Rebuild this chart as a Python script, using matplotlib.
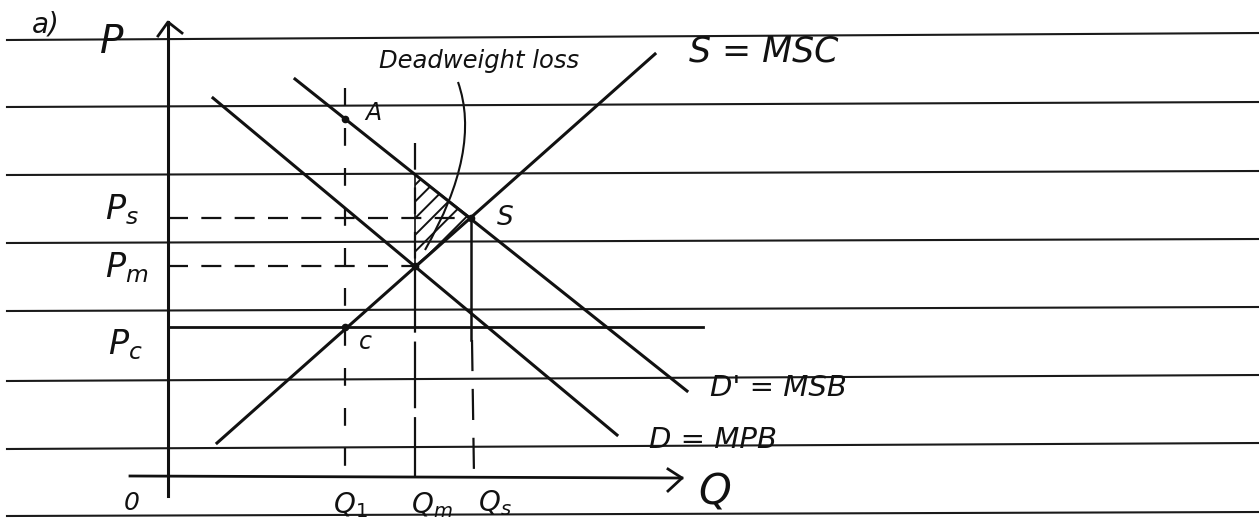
import numpy as np
import matplotlib.pyplot as plt
from matplotlib.patches import Polygon, PathPatch
from matplotlib.path import Path

# notebook ruling (pixel coords, left edge / right edge)
rule_y_left = [40, 107, 175, 243, 311, 381, 449, 516]
rule_y_right = [33, 102, 171, 239, 307, 375, 443, 512]

# curves: [x0, x1], [y0, y1]
mpb_x, mpb_y = [213, 617], [98, 435]      # D = MPB
msb_x, msb_y = [295, 687], [79, 391]      # D' = MSB
msc_x, msc_y = [217, 655], [443, 54]      # S = MSC

# key points
q1, qm, qs = 345, 415, 471
p_s, p_m, p_c = 218, 266, 327
axis_x, axis_y = 168, 476


def line_y(xs, ys, x):
    return ys[0] + (ys[1] - ys[0]) * (x - xs[0]) / (xs[1] - xs[0])


plt.rcParams['hatch.linewidth'] = 1.4

fig = plt.figure(figsize=(12.59, 5.18), dpi=100)
ax = fig.add_axes([0, 0, 1, 1])
ax.set_xlim(0, 1259)
ax.set_ylim(518, 0)
ax.axis('off')

ink = '#111111'
for yl, yr in zip(rule_y_left, rule_y_right):
    ax.plot([7, 1259], [yl, yr], color='#1a1a1a', lw=1.5)

# axes
ax.plot([axis_x, axis_x], [22, 496], color=ink, lw=2.2)
ax.plot([158, axis_x, 182], [36, 22, 33], color=ink, lw=2)
ax.plot([130, 682], [axis_y, axis_y + 2], color=ink, lw=2)
ax.plot([668, 682, 668], [469, 478, 491], color=ink, lw=2)

# curves
ax.plot(mpb_x, mpb_y, color=ink, lw=2.2)
ax.plot(msb_x, msb_y, color=ink, lw=2.2)
ax.plot(msc_x, msc_y, color=ink, lw=2.2)

# guide lines
ax.plot([axis_x, qs], [p_s, p_s], color=ink, lw=1.6, ls=(0, (9, 6)))
ax.plot([axis_x, qm], [p_m, p_m], color=ink, lw=1.6, ls=(0, (9, 6)))
ax.plot([axis_x, 703], [p_c, p_c], color=ink, lw=2)
ax.plot([q1, q1], [88, axis_y], color=ink, lw=1.6, ls=(0, (8, 10)))
ax.plot([qm, qm], [143, p_m], color=ink, lw=1.6, ls=(0, (12, 8)))
ax.plot([qm, qm], [p_m, axis_y], color=ink, lw=1.6, ls=(0, (30, 4)))
ax.plot([qs, qs], [p_s, 340], color=ink, lw=1.8)
ax.plot([qs + 1, qs + 3], [340, axis_y], color=ink, lw=1.6, ls=(0, (14, 8)))

# deadweight loss triangle
tri = [(qm, line_y(msb_x, msb_y, qm)), (qm, p_m), (qs, p_s)]
ax.add_patch(Polygon(tri, closed=True, fill=False, hatch='//',
                     edgecolor=ink, lw=1.2))

# points
for px, py in [(q1, line_y(msb_x, msb_y, q1)), (q1, p_c), (qm, p_m), (qs, p_s)]:
    ax.plot(px, py, 'o', color=ink, ms=4.5)

# pointer curve
verts = [(458, 82), (482, 150), (425, 250)]
ax.add_patch(PathPatch(Path(verts, [Path.MOVETO, Path.CURVE3, Path.CURVE3]),
                       fill=False, lw=1.5, color=ink))

# labels
fs = dict(color=ink, family='DejaVu Sans', style='italic')
ax.text(46, 24, 'a)', fontsize=20, ha='center', va='center', **fs)
ax.text(112, 42, 'P', fontsize=28, ha='center', va='center', **fs)
ax.text(479, 61, 'Deadweight loss', fontsize=17.5, ha='center', va='center', **fs)
ax.text(764, 52, 'S = MSC', fontsize=25, ha='center', va='center', **fs)
ax.text(373, 113, 'A', fontsize=17, ha='center', va='center', **fs)
ax.text(505, 218, 'S', fontsize=19, ha='center', va='center', **fs)
ax.text(122, 210, r'P$_s$', fontsize=24, ha='center', va='center', **fs)
ax.text(127, 268, r'P$_m$', fontsize=24, ha='center', va='center', **fs)
ax.text(125, 345, r'P$_c$', fontsize=24, ha='center', va='center', **fs)
ax.text(365, 342, 'c', fontsize=17, ha='center', va='center', **fs)
ax.text(778, 388, "D' = MSB", fontsize=21, ha='center', va='center', **fs)
ax.text(713, 440, 'D = MPB', fontsize=21, ha='center', va='center', **fs)
ax.text(715, 493, 'Q', fontsize=30, ha='center', va='center', **fs)
ax.text(132, 503, '0', fontsize=18, ha='center', va='center', **fs)
ax.text(350, 505, r'Q$_1$', fontsize=20, ha='center', va='center', **fs)
ax.text(432, 505, r'Q$_m$', fontsize=20, ha='center', va='center', **fs)
ax.text(495, 503, r'Q$_s$', fontsize=20, ha='center', va='center', **fs)

fig.savefig('out.png', dpi=100, facecolor='white')
